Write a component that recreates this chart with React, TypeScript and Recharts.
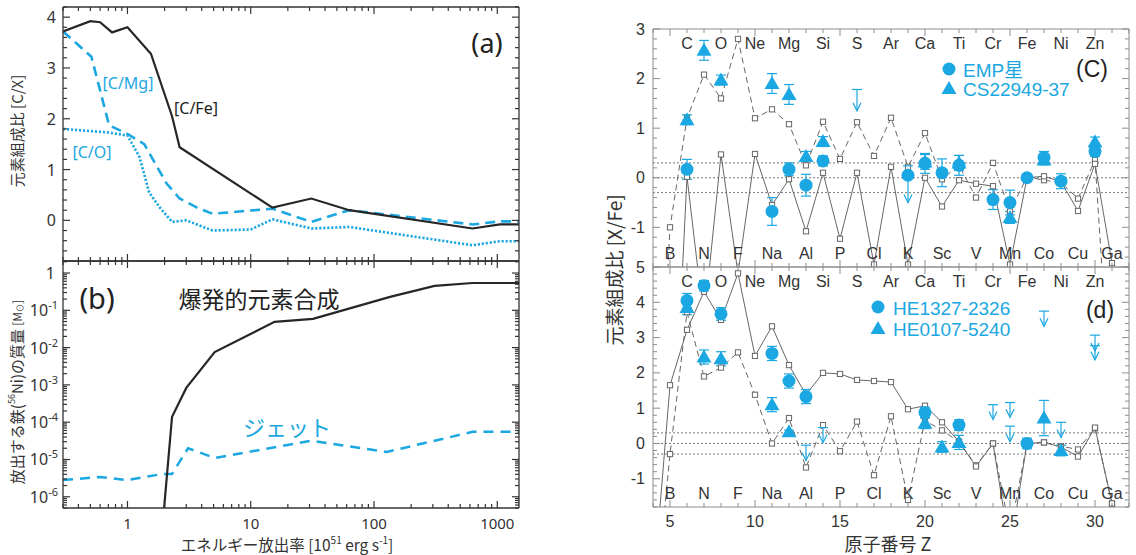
import React from 'react';
import { ComposedChart, Line, Scatter, XAxis, YAxis, ErrorBar, ReferenceLine } from 'recharts';

const BLUE = '#1ba7e1';
const INK = '#262626';
const LAT = '"Liberation Sans", Arial, "Noto Sans CJK JP", sans-serif';
const SANS = '"Noto Sans", "Open Sans", "Noto Sans CJK JP", sans-serif';
const JP = '"Noto Sans CJK JP", "Noto Sans", sans-serif';

// ---- (a) [C/X] against energy release rate ----
const rateCFe = [0.3, 0.5, 0.6, 0.75, 1, 1.55, 2.3, 2.65, 15, 31, 63, 630, 1050, 1500];
const ratioCFe = [3.72, 3.92, 3.9, 3.7, 3.8, 3.28, 2.05, 1.44, 0.25, 0.43, 0.2, -0.16, -0.08, -0.08];
const rateCMg = [0.3, 0.51, 0.71, 1, 1.37, 2.07, 2.65, 3.6, 4.9, 15, 31, 63, 630, 1050, 1500];
const ratioCMg = [3.72, 3.22, 1.87, 1.7, 1.5, 0.73, 0.43, 0.26, 0.13, 0.23, -0.03, 0.2, -0.08, -0.02, -0.02];
const rateCO = [0.3, 0.7, 1, 1.25, 1.5, 1.82, 2.3, 3.0, 4.9, 10, 15, 31, 63, 630, 1050, 1500];
const ratioCO = [1.8, 1.73, 1.67, 1.25, 0.55, 0.26, -0.03, 0.0, -0.2, -0.18, 0.02, -0.16, -0.13, -0.49, -0.41, -0.41];

// ---- (b) ejected iron (56Ni) mass ----
const rateExplosive = [1.9, 2.3, 3.0, 5.1, 15.6, 32, 135, 310, 630, 1500];
const massExplosive = [1e-7, 1.4e-4, 8.3e-4, 7.6e-3, 0.049, 0.059, 0.23, 0.45, 0.54, 0.54];
const rateJet = [0.3, 0.6, 1.0, 1.93, 2.3, 3.1, 5.1, 31, 127, 630, 1500];
const massJet = [2.8e-6, 3.4e-6, 2.8e-6, 4.1e-6, 4.1e-6, 2.0e-5, 1.1e-5, 3.2e-5, 1.6e-5, 5.5e-5, 5.5e-5];

// ---- (c), (d) [X/Fe] against atomic number ----
const modelZ = [4, 5, 6, 7, 8, 9, 10, 11, 12, 13, 14, 15, 16, 17, 18, 19, 20, 21, 22, 23, 24, 25, 26, 27, 28, 29, 30, 31];
const cModelSolid = [null, -7, 0.02, -2.9, 0.47, -1.93, 0.48, -0.55, -0.03, -1.08, 0.1, -1.23, 0.1, -1.75, 0.22, -1.75, 0.0, -0.58, -0.05, -0.12, -0.17, -1.75, 0.0, 0.03, -0.08, -0.67, 0.28, -1.72];
const cModelDashed = [-7.7, -1.0, 1.2, 2.08, 1.6, 2.8, 1.2, 1.38, 1.08, 0.25, 1.13, 0.38, 1.12, 0.44, 1.21, 0.22, 0.9, -0.03, 0.25, -0.4, 0.3, -0.68, 0.02, -0.05, -0.1, -0.42, 0.36, -5];
const dModelSolid = [-4.2, 1.65, 3.22, 4.3, 3.5, 4.82, 2.48, 3.32, 2.22, 1.38, 2.0, 1.97, 1.8, 1.77, 1.74, 0.97, 1.07, 0.6, 0.05, -0.65, 0.0, -3.0, 0.0, 0.03, -0.1, -0.37, 0.45, -1.7];
const dModelDashed = [-5.3, -0.3, 3.72, 1.9, 2.15, 2.58, 1.38, 0.0, 0.72, -0.68, 0.52, -0.22, 0.62, -0.9, 0.77, -1.6, 0.65, 0.37, 0.05, -0.62, 0.0, -2.5, 0.0, 0.03, -0.08, -0.17, 0.43, -1.7];

const upperSymbols = ['C', 'O', 'Ne', 'Mg', 'Si', 'S', 'Ar', 'Ca', 'Ti', 'Cr', 'Fe', 'Ni', 'Zn'];
const lowerSymbols = ['B', 'N', 'F', 'Na', 'Al', 'P', 'Cl', 'K', 'Sc', 'V', 'Mn', 'Co', 'Cu', 'Ga'];

// EMP stars (average)
const empZ = [6, 11, 12, 13, 14, 19, 20, 21, 22, 24, 25, 26, 27, 28, 30];
const empVal = [0.17, -0.68, 0.17, -0.15, 0.34, 0.05, 0.29, 0.1, 0.25, -0.44, -0.5, 0.0, 0.41, -0.07, 0.53];
const empErr = [0.2, 0.28, 0.13, 0.22, 0.1, 0, 0.2, 0.28, 0.2, 0.2, 0.25, 0.05, 0.12, 0.15, 0.1];
const empLimZ = [19];
const empLimTop = [0.24];
const empLimTip = [-0.5];

// CS22949-37
const csZ = [6, 7, 8, 11, 12, 13, 14, 20, 22, 25, 27, 30];
const csVal = [1.17, 2.57, 1.97, 1.9, 1.68, 0.43, 0.73, 0.32, 0.3, -0.8, 0.36, 0.72];
const csErr = [0.1, 0.2, 0.1, 0.2, 0.2, 0.1, 0.1, 0.15, 0.15, 0.12, 0.1, 0.1];
const csLimZ = [16];
const csLimTop = [1.78];
const csLimTip = [1.35];

// HE1327-2326
const he1327Z = [6, 7, 8, 11, 12, 13, 20, 22, 26];
const he1327Val = [4.05, 4.47, 3.67, 2.55, 1.77, 1.33, 0.88, 0.52, 0.0];
const he1327Err = [0.2, 0.15, 0.18, 0.2, 0.2, 0.2, 0.15, 0.15, 0.15];

// HE0107-5240
const he0107Z = [6, 7, 8, 11, 12, 20, 21, 22, 27, 28];
const he0107Val = [3.85, 2.45, 2.4, 1.1, 0.33, 0.57, -0.1, 0.03, 0.72, -0.2];
const he0107Err = [0.2, 0.2, 0.2, 0.2, 0.05, 0.15, 0.15, 0.2, 0.5, 0.15];

// upper limits in (d)
const dLimZ = [13, 14, 24, 25, 25, 27, 28, 30, 30];
const dLimTop = [-0.05, 0.45, 1.1, 1.16, 0.49, 3.75, 0.6, 3.07, 2.77];
const dLimTip = [-0.48, 0.02, 0.68, 0.74, 0.05, 3.32, 0.17, 2.62, 2.37];

// ---------- helpers ----------
const pairs = (xs: number[], ys: number[]) => xs.map((x, i) => ({ x, y: ys[i] }));

const logTicks = (lo: number, hi: number) => {
  const out: number[] = [];
  for (let k = Math.floor(Math.log10(lo)); k <= Math.ceil(Math.log10(hi)); k++) {
    for (let m = 1; m <= 9; m++) {
      const v = parseFloat((m * Math.pow(10, k)).toPrecision(8));
      if (v >= lo * 0.99999 && v <= hi * 1.00001) out.push(v);
    }
  }
  return out;
};
const linTicks = (lo: number, hi: number, step: number) => {
  const out: number[] = [];
  const n = Math.round((hi - lo) / step);
  for (let i = 0; i <= n; i++) out.push(Math.round((lo + i * step) * 1000) / 1000);
  return out;
};
const isDecade = (v: number) => Math.abs(Math.log10(v) - Math.round(Math.log10(v))) < 1e-6;
const isInt = (v: number) => Math.abs(v - Math.round(v)) < 1e-6;
const isFive = (v: number) => isInt(v) && Math.round(v) % 5 === 0;

type Side = 'left' | 'right' | 'top' | 'bottom';
const tickRenderer = (
  side: Side,
  isMajor: (v: number) => boolean,
  o: { major: number; minor: number; stroke: string; width: number; label?: (v: number, x: number, y: number) => React.ReactNode }
) => (p: any) => {
  const { x, y } = p;
  const v = p.payload.value;
  const big = isMajor(v);
  const len = big ? o.major : o.minor;
  const dx = side === 'left' ? len : side === 'right' ? -len : 0;
  const dy = side === 'top' ? len : side === 'bottom' ? -len : 0;
  return (
    <g>
      <line x1={x} y1={y} x2={x + dx} y2={y + dy} stroke={o.stroke} strokeWidth={o.width} />
      {big && o.label ? o.label(v, x, y) : null}
    </g>
  );
};

const LEFT_AXIS = { stroke: '#333', strokeWidth: 1.3 };
const RIGHT_AXIS = { stroke: '#8c8c8c', strokeWidth: 1 };
const leftTickStyle = { major: 7, minor: 4, stroke: '#333', width: 1.2 };
const rightTickStyle = { major: 7, minor: 4, stroke: '#8c8c8c', width: 1 };

const rateTicks = logTicks(0.3, 1500);
const aYTicks = linTicks(-0.8, 4.2, 0.2);
const massTicks = logTicks(5e-7, 2.1);
const zTicks = linTicks(4, 32, 1);
const cYTicks = linTicks(-1.8, 3, 0.2);
const dYTicks = linTicks(-1.8, 5, 0.2);

const aYLabel = (v: number, x: number, y: number) => (
  <text x={x - 7} y={y} textAnchor="end" dominantBaseline="central" fontSize={16} fill="#333" fontFamily={SANS}>
    {Math.round(v)}
  </text>
);
const massLabel = (v: number, x: number, y: number) => {
  const k = Math.round(Math.log10(v));
  if (k === 0)
    return (
      <text x={x - 8} y={y} textAnchor="end" dominantBaseline="central" fontSize={16} fill="#333" fontFamily={SANS}>
        1
      </text>
    );
  return (
    <text x={x - 5} y={y + 6} textAnchor="end" fontSize={16} fill="#333" fontFamily={SANS}>
      10
      <tspan dy={-7} fontSize={11}>
        {String(k)}
      </tspan>
    </text>
  );
};
const rateLabel = (v: number, x: number, y: number) =>
  v >= 1 ? (
    <text x={x} y={y + 15} textAnchor="middle" dominantBaseline="central" fontSize={15} fill="#333" fontFamily={SANS}>
      {Math.round(v)}
    </text>
  ) : null;
const xfeLabel = (v: number, x: number, y: number) => (
  <text x={x - 8} y={y} textAnchor="end" dominantBaseline="central" fontSize={16} fill="#333" fontFamily={LAT}>
    {Math.round(v)}
  </text>
);
const zLabel = (v: number, x: number, y: number) => (
  <text x={x} y={y + 14} textAnchor="middle" dominantBaseline="central" fontSize={16} fill="#333" fontFamily={LAT}>
    {Math.round(v)}
  </text>
);

// ---------- mark shapes ----------
const OpenSquare = (p: any) => {
  if (p.cx == null || p.cy == null || p.value == null || Number.isNaN(p.cy)) return <g key={p.key} />;
  return <rect key={p.key} x={p.cx - 2.6} y={p.cy - 2.6} width={5.2} height={5.2} fill="#fff" stroke="#666" strokeWidth={1} />;
};
const Dot = (p: any) => <circle cx={p.cx} cy={p.cy} r={6.5} fill={BLUE} />;
const Tri = (p: any) => (
  <polygon points={`${p.cx},${p.cy - 7.5} ${p.cx - 7.5},${p.cy + 5.5} ${p.cx + 7.5},${p.cy + 5.5}`} fill={BLUE} />
);
const LimitCap = (p: any) => <line x1={p.cx - 5} y1={p.cy} x2={p.cx + 5} y2={p.cy} stroke={BLUE} strokeWidth={1.2} />;
const LimitHead = (p: any) => (
  <polyline points={`${p.cx - 4},${p.cy - 8} ${p.cx},${p.cy} ${p.cx + 4},${p.cy - 8}`} fill="none" stroke={BLUE} strokeWidth={1.2} />
);
const SymbolText = (p: any) => (
  <text x={p.cx} y={p.cy} textAnchor="middle" dominantBaseline="central" fontSize={16} fill="#333" fontFamily={LAT}>
    {p.payload.s}
  </text>
);

const obs = (zs: number[], vs: number[], es: number[]) => zs.map((z, i) => ({ z, y: vs[i], e: es[i] }));
const lims = (zs: number[], vs: number[]) => zs.map((z, i) => ({ z, y: vs[i] }));

// ---------- panels ----------
function EnergyPanelA() {
  return (
    <ComposedChart width={545} height={270} margin={{ top: 6, right: 25, bottom: 0, left: 0 }}>
      <XAxis dataKey="x" type="number" scale="log" domain={[0.3, 1500]} allowDataOverflow ticks={rateTicks} interval={0}
        tickSize={0} tickMargin={0} height={9} axisLine={LEFT_AXIS} tickLine={false}
        tick={tickRenderer('bottom', isDecade, leftTickStyle)} />
      <XAxis xAxisId="t" orientation="top" dataKey="x" type="number" scale="log" domain={[0.3, 1500]} allowDataOverflow ticks={rateTicks} interval={0}
        tickSize={0} tickMargin={0} height={1} axisLine={LEFT_AXIS} tickLine={false}
        tick={tickRenderer('top', isDecade, leftTickStyle)} />
      <YAxis type="number" domain={[-0.8, 4.2]} allowDataOverflow ticks={aYTicks} interval={0} width={63}
        tickSize={0} tickMargin={0} axisLine={LEFT_AXIS} tickLine={false}
        tick={tickRenderer('left', isInt, { ...leftTickStyle, label: aYLabel })} />
      <YAxis yAxisId="r" orientation="right" type="number" domain={[-0.8, 4.2]} allowDataOverflow ticks={aYTicks} interval={0} width={1}
        tickSize={0} tickMargin={0} axisLine={LEFT_AXIS} tickLine={false}
        tick={tickRenderer('right', isInt, leftTickStyle)} />
      <Line data={pairs(rateCO, ratioCO)} dataKey="y" stroke={BLUE} strokeWidth={2.6} strokeDasharray="2.2 1.8" dot={false} isAnimationActive={false} />
      <Line data={pairs(rateCMg, ratioCMg)} dataKey="y" stroke={BLUE} strokeWidth={2.6} strokeDasharray="10 6" dot={false} isAnimationActive={false} />
      <Line data={pairs(rateCFe, ratioCFe)} dataKey="y" stroke={INK} strokeWidth={2.2} dot={false} isAnimationActive={false} />
    </ComposedChart>
  );
}

function EnergyPanelB() {
  return (
    <ComposedChart width={545} height={305} margin={{ top: 10, right: 25, bottom: 0, left: 0 }}>
      <XAxis dataKey="x" type="number" scale="log" domain={[0.3, 1500]} allowDataOverflow ticks={rateTicks} interval={0}
        tickSize={0} tickMargin={0} height={47} axisLine={LEFT_AXIS} tickLine={false}
        tick={tickRenderer('bottom', isDecade, { ...leftTickStyle, label: rateLabel })} />
      <XAxis xAxisId="t" orientation="top" dataKey="x" type="number" scale="log" domain={[0.3, 1500]} allowDataOverflow ticks={rateTicks} interval={0}
        tickSize={0} tickMargin={0} height={1} axisLine={LEFT_AXIS} tickLine={false}
        tick={tickRenderer('top', isDecade, leftTickStyle)} />
      <YAxis type="number" scale="log" domain={[5e-7, 2.1]} allowDataOverflow ticks={massTicks} interval={0} width={63}
        tickSize={0} tickMargin={0} axisLine={LEFT_AXIS} tickLine={false}
        tick={tickRenderer('left', isDecade, { ...leftTickStyle, label: massLabel })} />
      <YAxis yAxisId="r" orientation="right" type="number" scale="log" domain={[5e-7, 2.1]} allowDataOverflow ticks={massTicks} interval={0} width={1}
        tickSize={0} tickMargin={0} axisLine={LEFT_AXIS} tickLine={false}
        tick={tickRenderer('right', isDecade, leftTickStyle)} />
      <Line data={pairs(rateJet, massJet)} dataKey="y" stroke={BLUE} strokeWidth={2.5} strokeDasharray="10 7" dot={false} isAnimationActive={false} />
      <Line data={pairs(rateExplosive, massExplosive)} dataKey="y" stroke={INK} strokeWidth={2.2} dot={false} isAnimationActive={false} />
    </ComposedChart>
  );
}

function AbundancePanel(props: {
  height: number; top: number; bottomAxis: number; domain: [number, number]; yTicks: number[]; labelZ: boolean;
  solid: (number | null)[]; dashed: (number | null)[]; upperRow: number; lowerRow: number;
  children?: React.ReactNode;
}) {
  const rows = modelZ.map((z, i) => ({ z, solid: props.solid[i], dashed: props.dashed[i] }));
  const upper = upperSymbols.map((s, i) => ({ z: 6 + 2 * i, y: props.upperRow, s }));
  const lower = lowerSymbols.map((s, i) => ({ z: 5 + 2 * i, y: props.lowerRow, s }));
  return (
    <ComposedChart width={536} height={props.height} data={rows} margin={{ top: props.top, right: 6, bottom: 0, left: 0 }}>
      <XAxis dataKey="z" type="number" domain={[4, 32]} allowDataOverflow ticks={zTicks} interval={0}
        tickSize={0} tickMargin={0} height={props.bottomAxis} axisLine={RIGHT_AXIS} tickLine={false}
        tick={tickRenderer('bottom', isFive, { ...rightTickStyle, label: props.labelZ ? zLabel : undefined })} />
      <XAxis xAxisId="t" orientation="top" dataKey="z" type="number" domain={[4, 32]} allowDataOverflow ticks={zTicks} interval={0}
        tickSize={0} tickMargin={0} height={1} axisLine={RIGHT_AXIS} tickLine={false}
        tick={tickRenderer('top', isFive, rightTickStyle)} />
      <YAxis type="number" domain={props.domain} allowDataOverflow ticks={props.yTicks} interval={0} width={53}
        tickSize={0} tickMargin={0} axisLine={RIGHT_AXIS} tickLine={false}
        tick={tickRenderer('left', isInt, { ...rightTickStyle, label: xfeLabel })} />
      <YAxis yAxisId="r" orientation="right" type="number" domain={props.domain} allowDataOverflow ticks={props.yTicks} interval={0} width={1}
        tickSize={0} tickMargin={0} axisLine={RIGHT_AXIS} tickLine={false}
        tick={tickRenderer('right', isInt, rightTickStyle)} />
      <ReferenceLine y={0.3} stroke="#777" strokeDasharray="2 2" strokeWidth={1} />
      <ReferenceLine y={0} stroke="#777" strokeDasharray="2 2" strokeWidth={1} />
      <ReferenceLine y={-0.3} stroke="#777" strokeDasharray="2 2" strokeWidth={1} />
      <Scatter data={upper} dataKey="y" shape={SymbolText} isAnimationActive={false} />
      <Scatter data={lower} dataKey="y" shape={SymbolText} isAnimationActive={false} />
      <Line dataKey="dashed" stroke="#666" strokeWidth={1} strokeDasharray="6 4" dot={OpenSquare} isAnimationActive={false} />
      <Line dataKey="solid" stroke="#666" strokeWidth={1} dot={OpenSquare} isAnimationActive={false} />
      {props.children}
    </ComposedChart>
  );
}

const limitMarks = (zs: number[], tops: number[], tips: number[], key: string) => [
  ...zs.map((z, i) => (
    <ReferenceLine key={`${key}-s${i}`} segment={[{ x: z, y: tops[i] }, { x: z, y: tips[i] }]} stroke={BLUE} strokeWidth={1.2} />
  )),
  <Scatter key={`${key}-cap`} data={lims(zs, tops)} dataKey="y" shape={LimitCap} isAnimationActive={false} />,
  <Scatter key={`${key}-head`} data={lims(zs, tips)} dataKey="y" shape={LimitHead} isAnimationActive={false} />,
];

export default function App() {
  return (
    <div style={{ position: 'absolute', left: 0, top: 0, width: 1136, height: 555, background: '#fff', overflow: 'hidden' }}>
      <div style={{ position: 'absolute', left: 0, top: 0 }}>
        <EnergyPanelA />
      </div>
      <div style={{ position: 'absolute', left: 0, top: 250 }}>
        <EnergyPanelB />
      </div>
      <div style={{ position: 'absolute', left: 600, top: 0 }}>
        <AbundancePanel height={275} top={28} bottomAxis={8} domain={[-1.8, 3]} yTicks={cYTicks} labelZ={false}
          solid={cModelSolid} dashed={cModelDashed} upperRow={2.7} lowerRow={-1.52}>
          {limitMarks(csLimZ, csLimTop, csLimTip, 'cs')}
          {limitMarks(empLimZ, empLimTop, empLimTip, 'emp')}
          <Scatter data={obs(csZ, csVal, csErr)} dataKey="y" shape={Tri} isAnimationActive={false}>
            <ErrorBar dataKey="e" direction="y" width={5} stroke={BLUE} strokeWidth={1.2} />
          </Scatter>
          <Scatter data={obs(empZ, empVal, empErr)} dataKey="y" shape={Dot} isAnimationActive={false}>
            <ErrorBar dataKey="e" direction="y" width={5} stroke={BLUE} strokeWidth={1.2} />
          </Scatter>
        </AbundancePanel>
      </div>
      <div style={{ position: 'absolute', left: 600, top: 258 }}>
        <AbundancePanel height={297} top={8} bottomAxis={48} domain={[-1.8, 5]} yTicks={dYTicks} labelZ={true}
          solid={dModelSolid} dashed={dModelDashed} upperRow={4.58} lowerRow={-1.43}>
          {limitMarks(dLimZ, dLimTop, dLimTip, 'd')}
          <Scatter data={obs(he0107Z, he0107Val, he0107Err)} dataKey="y" shape={Tri} isAnimationActive={false}>
            <ErrorBar dataKey="e" direction="y" width={5} stroke={BLUE} strokeWidth={1.2} />
          </Scatter>
          <Scatter data={obs(he1327Z, he1327Val, he1327Err)} dataKey="y" shape={Dot} isAnimationActive={false}>
            <ErrorBar dataKey="e" direction="y" width={5} stroke={BLUE} strokeWidth={1.2} />
          </Scatter>
        </AbundancePanel>
      </div>

      <svg width={1136} height={555} style={{ position: 'absolute', left: 0, top: 0, pointerEvents: 'none' }}>
        {/* left column titles and annotations */}
        <text transform="translate(16,131) rotate(-90)" textAnchor="middle" dominantBaseline="central" fontSize={15} fill="#333" fontFamily={JP}>
          元素組成比 [C/X]
        </text>
        <text transform="translate(16,392) rotate(-90)" textAnchor="middle" dominantBaseline="central" fontSize={15} fill="#333" fontFamily={JP}>
          放出する鉄(<tspan fontSize={9} dy={-5}>56</tspan><tspan dy={5}>Ni)の質量 </tspan><tspan fontSize={12}>[M</tspan><tspan fontSize={8} dy={3}>⊙</tspan><tspan fontSize={12} dy={-3}>]</tspan>
        </text>
        <text x={287} y={551} textAnchor="middle" fontSize={15.5} fill="#333" fontFamily={JP}>
          エネルギー放出率 [10<tspan fontSize={10} dy={-7}>51</tspan><tspan dy={7}> erg s</tspan><tspan fontSize={10} dy={-7}>-1</tspan><tspan dy={7}>]</tspan>
        </text>
        <text x={487} y={42} textAnchor="middle" dominantBaseline="central" fontSize={27} fill="#222" fontFamily={SANS}>(a)</text>
        <text x={128} y={83} textAnchor="middle" dominantBaseline="central" fontSize={16} fill={BLUE} fontFamily={SANS}>[C/Mg]</text>
        <text x={196} y={108} textAnchor="middle" dominantBaseline="central" fontSize={16} fill="#222" fontFamily={SANS}>[C/Fe]</text>
        <text x={92} y={152} textAnchor="middle" dominantBaseline="central" fontSize={16} fill={BLUE} fontFamily={SANS}>[C/O]</text>
        <text x={97} y={297} textAnchor="middle" dominantBaseline="central" fontSize={29} fill="#222" fontFamily={SANS}>(b)</text>
        <text x={259} y={298} textAnchor="middle" dominantBaseline="central" fontSize={23} fill="#222" fontFamily={JP}>爆発的元素合成</text>
        <text x={287} y={426} textAnchor="middle" dominantBaseline="central" fontSize={22} fill={BLUE} fontFamily={JP}>ジェット</text>

        {/* right column titles and legends */}
        <text transform="translate(613,270) rotate(-90)" textAnchor="middle" dominantBaseline="central" fontSize={19} fill="#333" fontFamily={JP}>
          元素組成比  [X/Fe]
        </text>
        <text x={888} y={543} textAnchor="middle" dominantBaseline="central" fontSize={18} fill="#333" fontFamily={JP}>原子番号  Z</text>
        <text x={1092} y={69} textAnchor="middle" dominantBaseline="central" fontSize={23} fill="#222" fontFamily={LAT}>(C)</text>
        <circle cx={949} cy={69} r={6.5} fill={BLUE} />
        <text x={963} y={70} dominantBaseline="central" fontSize={19} fill={BLUE} fontFamily={LAT}>EMP星</text>
        <polygon points="949,81 941.5,94 956.5,94" fill={BLUE} />
        <text x={963} y={89} dominantBaseline="central" fontSize={19} fill={BLUE} fontFamily={LAT}>CS22949-37</text>
        <text x={1100} y={310} textAnchor="middle" dominantBaseline="central" fontSize={23} fill="#222" fontFamily={LAT}>(d)</text>
        <circle cx={878} cy={307} r={6.5} fill={BLUE} />
        <text x={893} y={308} dominantBaseline="central" fontSize={19} fill={BLUE} fontFamily={LAT}>HE1327-2326</text>
        <polygon points="878,321 870.5,334 885.5,334" fill={BLUE} />
        <text x={893} y={329} dominantBaseline="central" fontSize={19} fill={BLUE} fontFamily={LAT}>HE0107-5240</text>
      </svg>
    </div>
  );
}
